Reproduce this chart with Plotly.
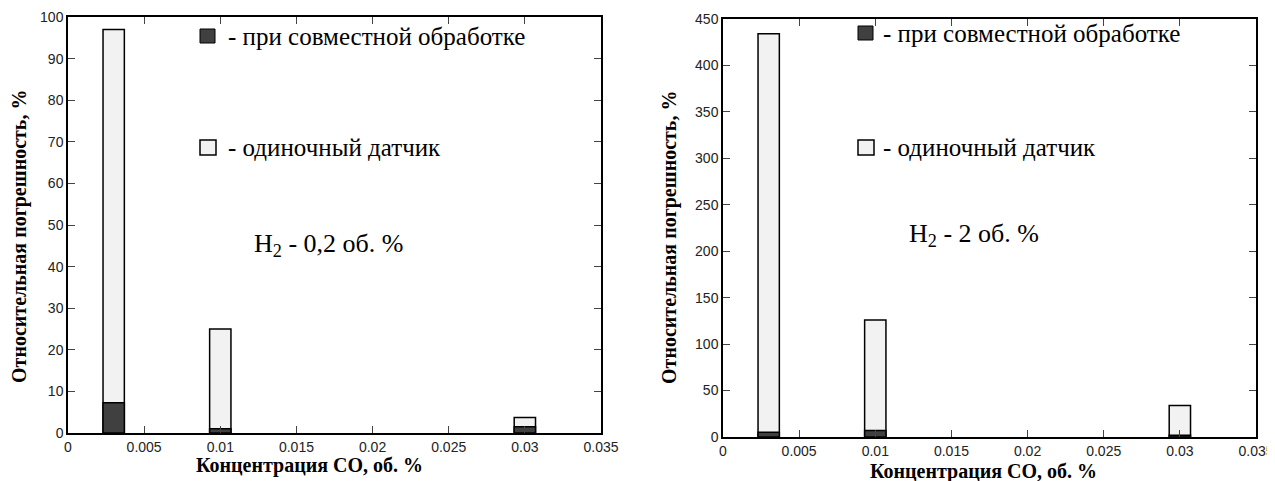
import plotly.graph_objects as go

conc = [0.003, 0.01, 0.03]
xticks = [0, 0.005, 0.01, 0.015, 0.02, 0.025, 0.03, 0.035]
xtick_text = ["0", "0.005", "0.01", "0.015", "0.02", "0.025", "0.03", "0.035"]

left_single = [97, 25, 3.7]
left_combined = [7.3, 1.0, 1.5]
right_single = [434, 126, 34]
right_combined = [5, 7, 2]

legend_combined = "- при совместной обработке"
legend_single = "- одиночный датчик"
left_label = "H<sub>2</sub> - 0,2 об. %"
right_label = "H<sub>2</sub> - 2 об. %"
xtitle = "Концентрация CO, об. %"
ytitle = "Относительная погрешность, %"

DARK = "#404040"
LIGHT = "#f2f2f2"
BW = 0.0014

fig = go.Figure()
for xa, ya, single, comb in [("x", "y", left_single, left_combined),
                             ("x2", "y2", right_single, right_combined)]:
    fig.add_trace(go.Bar(x=conc, y=single, width=BW, marker=dict(color=LIGHT, line=dict(color="black", width=1.5)),
                         xaxis=xa, yaxis=ya, showlegend=False))
    fig.add_trace(go.Bar(x=conc, y=comb, width=BW, marker=dict(color=DARK, line=dict(color="black", width=1.5)),
                         xaxis=xa, yaxis=ya, showlegend=False))

# page has an 8px body margin; map reference pixel coordinates to paper
OFF = 8
W, H = 1275 - OFF, 481 - OFF
def px(x): return (x - OFF) / W
def py(y): return 1 - (y - OFF) / H

tickfont = dict(family="Liberation Sans Narrow, Arial Narrow, sans-serif", size=14, color="#222")
titlefont = dict(family="Liberation Serif, Times New Roman, serif", size=20, color="black", weight="bold")
common_x = dict(range=[0, 0.035], tickvals=xticks, ticktext=xtick_text, ticks="inside", ticklen=7,
                showline=True, linecolor="black", linewidth=1.5, mirror="ticks", showgrid=False,
                zeroline=False, tickfont=tickfont, automargin=False, ticklabeloverflow="allow")
common_y = dict(ticks="inside", ticklen=7, showline=True, linecolor="black", linewidth=1.5,
                mirror="ticks", showgrid=False, zeroline=False, tickfont=tickfont, automargin=False,
                ticklabeloverflow="allow")

fig.update_layout(
    width=W, height=H, margin=dict(l=0, r=0, t=0, b=0),
    paper_bgcolor="white", plot_bgcolor="white", barmode="overlay",
    xaxis=dict(domain=[px(68), px(601)], anchor="y", **common_x),
    yaxis=dict(domain=[py(433), py(17)], anchor="x", range=[0, 100], dtick=10, **common_y),
    xaxis2=dict(domain=[px(723), px(1256)], anchor="y2", **common_x),
    yaxis2=dict(domain=[py(437), py(19)], anchor="x2", range=[0, 450], dtick=50, **common_y),
)

annfont = dict(family="Liberation Serif, Times New Roman, serif", size=25, color="black")
bigfont = dict(family="Liberation Serif, Times New Roman, serif", size=26, color="black")

shapes = []
anns = []
for (sqx, tx, y1, y2, lx, ly, lab, xtx, xty, ytx, yty) in [
        (200, 226, 36, 147, 252, 245, left_label, 309, 465, 20, 237),
        (858, 881, 33, 147, 907, 235, right_label, 983, 471, 670, 238)]:
    shapes.append(dict(type="rect", xref="paper", yref="paper", x0=px(sqx), x1=px(sqx + 15),
                       y0=py(y1 + 7), y1=py(y1 - 7), fillcolor=DARK, line=dict(color="black", width=1)))
    shapes.append(dict(type="rect", xref="paper", yref="paper", x0=px(sqx), x1=px(sqx + 16),
                       y0=py(y2 + 8), y1=py(y2 - 7), fillcolor=LIGHT, line=dict(color="black", width=1.5)))
    anns.append(dict(xref="paper", yref="paper", x=px(tx), y=py(y1), text=legend_combined, showarrow=False,
                     xanchor="left", yanchor="middle", font=annfont))
    anns.append(dict(xref="paper", yref="paper", x=px(tx), y=py(y2), text=legend_single, showarrow=False,
                     xanchor="left", yanchor="middle", font=annfont))
    anns.append(dict(xref="paper", yref="paper", x=px(lx), y=py(ly), text=lab, showarrow=False,
                     xanchor="left", yanchor="middle", font=bigfont))
    anns.append(dict(xref="paper", yref="paper", x=px(xtx), y=py(xty), text=xtitle, showarrow=False,
                     xanchor="center", yanchor="middle", font=titlefont))
    anns.append(dict(xref="paper", yref="paper", x=px(ytx), y=py(yty), text=ytitle, showarrow=False,
                     textangle=-90, xanchor="center", yanchor="middle", font=titlefont))

fig.update_layout(shapes=shapes, annotations=anns)
fig.write_html("out.html")
